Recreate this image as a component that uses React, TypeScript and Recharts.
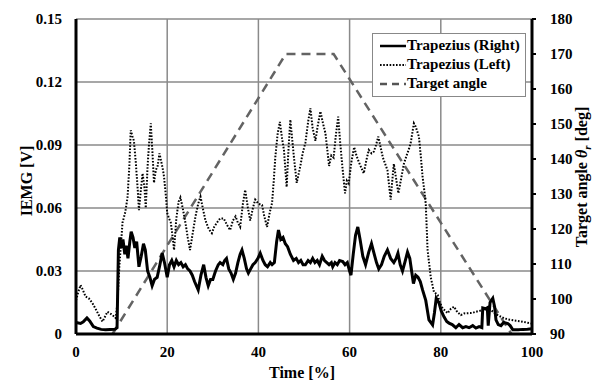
import React from 'react';
import {
  LineChart,
  Line,
  XAxis,
  YAxis,
  CartesianGrid,
} from 'recharts';

// Trapezius (Right) - solid trace
const rightTime = [
  0, 1, 1.6, 2.4, 3.0, 3.8, 4.6, 5.5, 6.5, 7.5, 8.5, 9.0, 9.3, 9.6, 9.9, 10.3, 10.7, 11.0, 11.4, 11.8,
  12.1, 12.5, 12.9, 13.3, 13.8, 14.3, 14.8, 15.2, 15.7, 16.2, 16.7, 17.2, 17.8, 18.4, 18.9, 19.4, 20.0,
  20.5, 21.0, 21.5, 22.0, 22.5, 23.0, 23.5, 24.0, 24.5, 25.0, 25.5, 26.0, 26.8, 27.4, 28.0, 28.5, 29.0,
  29.5, 30.0, 30.6, 31.2, 31.6, 32.2, 32.6, 33.0, 33.5, 34.0, 34.5, 35.0, 35.5, 36.0, 36.4, 36.9, 37.4,
  37.8, 38.3, 38.8, 39.3, 39.9, 40.4, 41.0, 41.5, 42.0, 42.6, 43.0, 43.5, 44.0, 44.4, 44.9, 45.4, 45.9,
  46.4, 47.0, 47.7, 48.3, 48.8, 49.3, 49.8, 50.3, 50.9, 51.4, 51.9, 52.4, 52.9, 53.4, 54.0, 54.5, 55.0,
  55.5, 56.0, 56.3, 56.8, 57.3, 57.8, 58.5, 59.0, 59.5, 60.0, 60.3, 60.8, 61.3, 61.8, 62.3, 62.9, 63.5,
  64.2, 64.8, 65.4, 65.9, 66.4, 67.0, 67.6, 68.3, 69.0, 69.7, 70.2, 70.6, 71.1, 71.6, 72.1, 72.7, 73.2,
  73.6, 74.0, 74.5, 75.0, 75.5, 76.0, 76.7, 77.4, 78.2, 78.6, 79.0, 79.6, 80.1, 80.7, 81.3, 81.8, 82.5,
  83.3, 84.0, 84.8, 85.5, 86.2, 87.0, 87.7, 88.4, 89.0, 89.2, 89.8, 90.2, 90.4, 90.8, 91.4, 91.8, 92.1,
  92.6, 93.2, 93.8, 94.7, 95.2, 95.8, 97.0, 98.0, 99.0, 100,
];
const rightIemg = [
  0.0055, 0.005, 0.0058, 0.0076, 0.0062, 0.0035, 0.0028, 0.0022, 0.002, 0.0021, 0.0022, 0.003, 0.04, 0.046,
  0.041, 0.045, 0.038, 0.042, 0.036, 0.044, 0.0487, 0.046, 0.041, 0.044, 0.032, 0.037, 0.043, 0.04, 0.03,
  0.027, 0.023, 0.026, 0.027, 0.033, 0.0385, 0.034, 0.027, 0.033, 0.035, 0.032, 0.035, 0.033, 0.034, 0.032,
  0.033, 0.031, 0.03, 0.028, 0.025, 0.021, 0.028, 0.033, 0.027, 0.023, 0.026, 0.026, 0.03, 0.033, 0.034,
  0.033, 0.035, 0.036, 0.031, 0.029, 0.026, 0.029, 0.034, 0.038, 0.04, 0.036, 0.031, 0.029, 0.031, 0.033,
  0.034, 0.036, 0.0385, 0.035, 0.033, 0.032, 0.034, 0.033, 0.034, 0.044, 0.0495, 0.045, 0.046, 0.043,
  0.0416, 0.038, 0.035, 0.036, 0.034, 0.035, 0.033, 0.033, 0.035, 0.034, 0.036, 0.034, 0.035, 0.033, 0.037,
  0.035, 0.034, 0.033, 0.034, 0.032, 0.034, 0.033, 0.035, 0.0345, 0.033, 0.034, 0.03, 0.028, 0.038, 0.047,
  0.051, 0.045, 0.037, 0.033, 0.039, 0.043, 0.038, 0.034, 0.031, 0.033, 0.037, 0.04, 0.036, 0.034, 0.036,
  0.0385, 0.033, 0.03, 0.034, 0.039, 0.036, 0.03, 0.024, 0.028, 0.027, 0.025, 0.021, 0.016, 0.0067, 0.0043,
  0.01, 0.017, 0.0148, 0.011, 0.0082, 0.006, 0.0052, 0.0045, 0.003, 0.0045, 0.003, 0.0035, 0.003, 0.004,
  0.0028, 0.0035, 0.003, 0.0124, 0.012, 0.0125, 0.004, 0.015, 0.017, 0.013, 0.0067, 0.0045, 0.004, 0.0055,
  0.005, 0.004, 0.002, 0.002, 0.0022, 0.0023, 0.0025,
];

// Trapezius (Left) - dotted trace
const leftTime = [
  0, 0.5, 1.0, 1.5, 2.1, 2.8, 3.6, 4.3, 5.0, 5.8, 6.3, 6.9, 7.5, 8.0, 8.7, 9.1, 9.5, 9.9, 10.2, 10.8, 11.3,
  11.7, 12.0, 12.4, 12.7, 13.1, 13.5, 13.8, 14.2, 14.6, 15.0, 15.3, 15.7, 16.0, 16.4, 16.8, 17.1, 17.5,
  17.9, 18.3, 18.6, 19.0, 19.3, 19.7, 20.0, 20.4, 20.8, 21.2, 21.5, 22.0, 22.5, 22.9, 23.4, 24.0, 24.5,
  25.0, 25.6, 26.2, 26.8, 27.3, 27.8, 28.4, 29.1, 29.8, 30.3, 30.9, 31.6, 32.4, 33.1, 33.8, 34.4, 35.0,
  35.5, 36.0, 36.6, 37.1, 37.7, 38.2, 38.8, 39.3, 40.0, 40.8, 41.3, 41.9, 42.5, 43.0, 43.4, 43.7, 44.2,
  44.7, 45.2, 45.6, 46.2, 46.6, 47.0, 47.4, 47.8, 48.4, 49.2, 49.7, 50.3, 50.9, 51.4, 51.9, 52.5, 53.0,
  53.6, 54.2, 54.7, 55.1, 55.5, 56.0, 56.5, 57.0, 57.5, 57.9, 58.4, 59.0, 59.4, 59.8, 60.4, 61.0, 61.5,
  62.0, 62.6, 63.1, 63.7, 64.2, 64.8, 65.3, 65.8, 66.3, 66.8, 67.3, 67.8, 68.3, 68.7, 69.0, 69.4, 69.7,
  70.2, 70.7, 71.3, 71.9, 72.5, 73.0, 73.4, 74.1, 74.5, 75.2, 75.6, 76.0, 76.4, 76.7, 77.1, 77.8, 78.5,
  79.3, 79.8, 80.4, 81.0, 81.5, 82.2, 82.9, 83.6, 84.4, 85.1, 85.9, 86.8, 87.7, 88.5, 89.2, 90.1, 91.0,
  91.8, 92.5, 93.2, 93.9, 94.7, 95.4, 96.5, 97.6, 98.7, 99.8,
];
const leftIemg = [
  0.016, 0.02, 0.0233, 0.021, 0.0178, 0.017, 0.0147, 0.012, 0.009, 0.0059, 0.008, 0.0106, 0.0098, 0.009,
  0.0076, 0.015, 0.032, 0.044, 0.053, 0.058, 0.065, 0.08, 0.097, 0.094, 0.092, 0.082, 0.07, 0.059, 0.068,
  0.0765, 0.07, 0.06, 0.08, 0.09, 0.1003, 0.085, 0.072, 0.078, 0.08, 0.086, 0.083, 0.079, 0.075, 0.066,
  0.0576, 0.055, 0.053, 0.046, 0.04, 0.055, 0.063, 0.065, 0.06, 0.053, 0.046, 0.04, 0.048, 0.056, 0.062,
  0.0654, 0.06, 0.054, 0.05, 0.048, 0.051, 0.053, 0.055, 0.055, 0.052, 0.0495, 0.054, 0.056, 0.053, 0.051,
  0.062, 0.0686, 0.06, 0.054, 0.06, 0.064, 0.062, 0.0614, 0.056, 0.051, 0.058, 0.0624, 0.074, 0.084, 0.095,
  0.101, 0.093, 0.0876, 0.07, 0.088, 0.102, 0.093, 0.084, 0.072, 0.08, 0.086, 0.091, 0.101, 0.1075, 0.098,
  0.092, 0.099, 0.106, 0.1, 0.0956, 0.088, 0.08, 0.085, 0.084, 0.095, 0.1035, 0.092, 0.08, 0.067, 0.073,
  0.0717, 0.082, 0.089, 0.085, 0.082, 0.079, 0.0765, 0.083, 0.0876, 0.086, 0.0868, 0.09, 0.094, 0.089,
  0.084, 0.081, 0.078, 0.07, 0.064, 0.074, 0.081, 0.074, 0.067, 0.074, 0.081, 0.085, 0.088, 0.091, 0.1003,
  0.0987, 0.094, 0.085, 0.075, 0.068, 0.062, 0.04, 0.027, 0.02, 0.0186, 0.015, 0.0122, 0.011, 0.0099,
  0.012, 0.013, 0.0105, 0.009, 0.0098, 0.0099, 0.01, 0.0106, 0.011, 0.0114, 0.0118, 0.0114, 0.01, 0.009,
  0.0082, 0.0075, 0.007, 0.0067, 0.0063, 0.006, 0.0055, 0.005,
];

// Target angle (right axis, deg)
const targetTime = [8, 46, 56.5, 95.5];
const targetAngle = [90, 170, 170, 90];

const timeTicks = [0, 20, 40, 60, 80, 100];
const iemgTicks = [0, 0.03, 0.06, 0.09, 0.12, 0.15];
const iemgTickLabels = ['0', '0.03', '0.06', '0.09', '0.12', '0.15'];
const angleTicks = [90, 100, 110, 120, 130, 140, 150, 160, 170, 180];

const rightData = rightTime.map((t, i) => ({ t, v: rightIemg[i] }));
const leftData = leftTime.map((t, i) => ({ t, v: leftIemg[i] }));
const targetData = targetTime.map((t, i) => ({ t, a: targetAngle[i] }));

const FONT = "'Liberation Serif', serif";
const textStyle: React.CSSProperties = { fontFamily: FONT, fontWeight: 700, fontSize: 15 };

const legendItems = [
  { name: 'Trapezius (Right)', color: '#000', width: 2.5, dash: undefined as string | undefined },
  { name: 'Trapezius (Left)', color: '#000', width: 1.8, dash: '1.6 1.6' },
  { name: 'Target angle', color: '#555', width: 2.5, dash: '7 5' },
];

// custom ticks so the serif font really gets applied
const XTick = ({ x, y, payload }: any) => (
  <text x={x} y={y} dy={11} textAnchor="middle" fill="#000" style={textStyle}>
    {payload.value}
  </text>
);

const LeftTick = ({ x, y, payload }: any) => (
  <text x={x} y={y} dy={5} textAnchor="end" fill="#000" style={textStyle}>
    {iemgTickLabels[iemgTicks.indexOf(payload.value)] ?? payload.value}
  </text>
);

const RightTick = ({ x, y, payload }: any) => (
  <text x={x} y={y} dy={5} textAnchor="start" fill="#000" style={textStyle}>
    {payload.value}
  </text>
);

const LegendBox = () => (
  <div
    style={{
      position: 'absolute',
      left: 372,
      top: 33,
      width: 154,
      boxSizing: 'border-box',
      border: '1px solid #888',
      background: '#fff',
      padding: '2px 0 3px 7px',
      fontFamily: FONT,
      fontWeight: 700,
      fontSize: 15,
      lineHeight: '19px',
    }}
  >
    {legendItems.map((item) => (
      <div key={item.name} style={{ display: 'flex', alignItems: 'center', whiteSpace: 'nowrap' }}>
        <svg width={26} height={10} style={{ marginRight: 1, flex: 'none' }}>
          <line
            x1={0}
            y1={5}
            x2={26}
            y2={5}
            stroke={item.color}
            strokeWidth={item.width}
            strokeDasharray={item.dash}
          />
        </svg>
        <span>{item.name}</span>
      </div>
    ))}
  </div>
);

export default function App() {
  return (
    <div style={{ position: 'absolute', left: 0, top: 0, width: 592, height: 390, background: '#fff' }}>
      <LineChart width={592} height={390} margin={{ top: 19, right: 0, left: 0, bottom: 0 }}>
        <CartesianGrid yAxisId="left" stroke="#8a8a8a" strokeWidth={1.5} />
        <XAxis
          dataKey="t"
          type="number"
          domain={[0, 100]}
          ticks={timeTicks}
          height={56}
          tickLine={false}
          tickMargin={6}
          axisLine={{ stroke: '#000', strokeWidth: 3 }}
          tick={<XTick />}
          allowDuplicatedCategory={false}
        />
        <YAxis
          yAxisId="left"
          orientation="left"
          type="number"
          domain={[0, 0.15]}
          ticks={iemgTicks}
          width={76}
          tickLine={false}
          tickMargin={8}
          axisLine={{ stroke: '#000', strokeWidth: 3 }}
          tick={<LeftTick />}
        />
        <YAxis
          yAxisId="right"
          orientation="right"
          type="number"
          domain={[90, 180]}
          ticks={angleTicks}
          width={60}
          tickSize={4}
          tickMargin={14}
          tickLine={{ stroke: '#000', strokeWidth: 2 }}
          axisLine={{ stroke: '#000', strokeWidth: 3 }}
          tick={<RightTick />}
        />
        <Line
          yAxisId="right"
          data={targetData}
          dataKey="a"
          name="Target angle"
          stroke="#636363"
          strokeWidth={2.5}
          strokeDasharray="9 6"
          dot={false}
          isAnimationActive={false}
        />
        <Line
          yAxisId="left"
          data={leftData}
          dataKey="v"
          name="Trapezius (Left)"
          stroke="#000"
          strokeWidth={2}
          strokeDasharray="1.6 1.6"
          dot={false}
          isAnimationActive={false}
        />
        <Line
          yAxisId="left"
          data={rightData}
          dataKey="v"
          name="Trapezius (Right)"
          stroke="#000"
          strokeWidth={3}
          dot={false}
          isAnimationActive={false}
        />
      </LineChart>
      <LegendBox />
      <div
        style={{
          position: 'absolute',
          left: 27,
          top: 181,
          transform: 'translate(-50%, -50%) rotate(-90deg)',
          fontFamily: FONT,
          fontWeight: 700,
          fontSize: 16,
          whiteSpace: 'nowrap',
        }}
      >
        IEMG [V]
      </div>
      <div
        style={{
          position: 'absolute',
          left: 583,
          top: 177,
          transform: 'translate(-50%, -50%) rotate(-90deg)',
          fontFamily: FONT,
          fontWeight: 700,
          fontSize: 16,
          whiteSpace: 'nowrap',
        }}
      >
        Target angle <i>θ</i>
        <sub style={{ fontSize: 11, fontStyle: 'italic' }}>r</sub> [deg]
      </div>
      <div
        style={{
          position: 'absolute',
          left: 302,
          top: 373,
          transform: 'translate(-50%, -50%)',
          fontFamily: FONT,
          fontWeight: 700,
          fontSize: 16,
          whiteSpace: 'nowrap',
        }}
      >
        Time [%]
      </div>
    </div>
  );
}
